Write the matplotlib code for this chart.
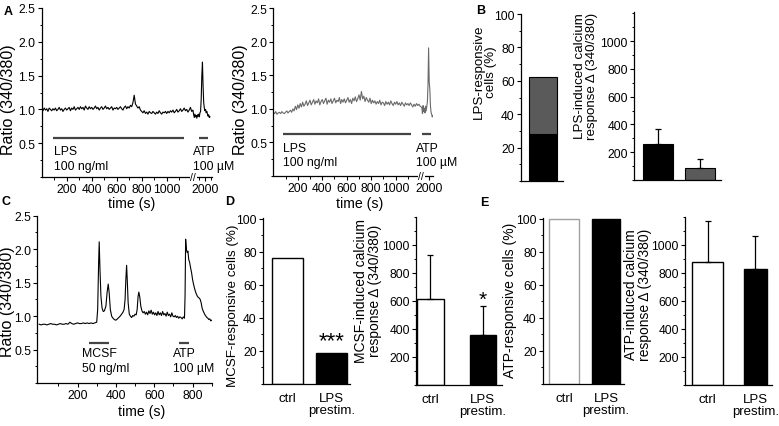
import matplotlib
matplotlib.use('Agg')
import matplotlib.pyplot as plt
from matplotlib.ticker import MultipleLocator, FixedLocator
import numpy as np

plt.rcParams['font.family'] = ['Liberation Sans', 'DejaVu Sans']
plt.rcParams['axes.linewidth'] = 0.9

W, H = 779, 427
fig = plt.figure(figsize=(W / 100, H / 100), dpi=100)

# ---------------- data ----------------
# Panel A (left trace, black), time in s, ratio 340/380
a1_pre_t = np.arange(0, 1220, 10)
a1_pre_v = [1.00, 0.98, 1.02, 0.99, 1.01, 0.97, 1.02, 1.00, 0.98, 1.01,
            0.99, 1.02, 0.98, 1.00, 1.03, 0.99, 1.01, 0.97, 1.00, 1.02,
            0.99, 1.01, 1.03, 0.98, 1.02, 1.00, 1.04, 0.99, 1.01, 1.03,
            1.00, 1.04, 1.01, 1.03, 0.99, 1.05, 1.02, 1.00, 1.04, 1.01,
            1.03, 1.00, 1.02, 1.05, 1.01, 1.03, 0.99, 1.02, 1.04, 1.00,
            1.02, 1.05, 1.01, 1.03, 1.00, 1.02, 1.04, 0.99, 1.02, 1.01,
            1.03, 1.00, 1.02, 1.04, 1.01, 0.99, 1.03, 1.05, 1.01, 1.04,
            1.02, 1.06, 1.04, 1.10, 1.21, 1.08, 1.05, 1.02, 1.04, 0.99,
            0.97, 0.95, 0.98, 0.94, 0.96, 0.93, 0.97, 0.95, 0.94, 0.97,
            0.95, 0.93, 0.96, 0.94, 0.98, 0.95, 0.93, 0.96, 0.95, 0.97,
            0.94, 0.97, 0.95, 0.98, 0.96, 0.99, 0.95, 0.97, 1.00, 0.96,
            0.98, 1.01, 0.97, 0.99, 1.02, 0.98, 1.00, 0.96, 0.99, 1.03, 0.97, 0.99]
a1_post_t = np.arange(1910, 2045, 5)
a1_post_v = [0.92, 0.88, 0.93, 0.89, 0.91, 0.87, 0.92, 0.90, 0.93, 0.89,
             0.95, 0.97, 1.15, 1.50, 1.70, 1.35, 1.10, 1.02, 0.98, 1.00,
             0.95, 0.97, 0.93, 0.90, 0.92, 0.88, 0.89]

# Panel A (right trace, gray)
a2_pre_t = np.arange(0, 1210, 10)
a2_pre_v = [0.95, 0.93, 0.96, 0.92, 0.94, 0.95, 0.93, 0.96, 0.94, 0.93,
            0.95, 0.97, 0.94, 0.96, 0.98, 0.95, 1.00, 0.97, 1.04, 0.99,
            1.06, 1.01, 1.08, 1.03, 1.10, 1.04, 1.07, 1.12, 1.05, 1.09,
            1.13, 1.06, 1.10, 1.14, 1.07, 1.12, 1.09, 1.15, 1.06, 1.11,
            1.14, 1.08, 1.12, 1.16, 1.07, 1.13, 1.10, 1.15, 1.08, 1.12,
            1.16, 1.09, 1.13, 1.11, 1.17, 1.08, 1.14, 1.10, 1.15, 1.09,
            1.13, 1.17, 1.10, 1.14, 1.08, 1.16, 1.12, 1.18, 1.11, 1.15,
            1.21, 1.13, 1.26, 1.15, 1.19, 1.11, 1.17, 1.13, 1.10, 1.16,
            1.08, 1.13, 1.09, 1.12, 1.07, 1.11, 1.08, 1.13, 1.06, 1.10,
            1.09, 1.05, 1.11, 1.07, 1.10, 1.06, 1.12, 1.08, 1.05, 1.10,
            1.07, 1.11, 1.06, 1.09, 1.05, 1.10, 1.07, 1.04, 1.09, 1.06,
            1.08, 1.05, 1.09, 1.06, 1.03, 1.07, 1.04, 1.08, 1.05, 1.07, 1.04]
a2_post_t = np.arange(1940, 2035, 5)
a2_post_v = [1.02, 0.93, 1.05, 0.96, 1.01, 0.94, 1.04, 0.97, 1.03, 1.10,
             1.35, 1.91, 1.40, 1.30, 1.05, 0.95, 0.92, 0.88, 0.90]

# Panel C trace (MCSF then ATP)
c_t = [0, 10, 20, 30, 40, 50, 60, 70, 80, 90,
       100, 110, 120, 130, 140, 150, 160, 170, 180, 190,
       200, 210, 220, 230, 240, 250, 260, 270, 280, 290,
       300, 305, 310, 313, 317, 322, 328, 334, 340, 348, 354, 360, 365, 371,
       378, 385, 392, 400, 408, 415, 422, 430, 437, 443, 448, 452, 456, 460,
       464, 470, 476, 482, 488, 494, 500, 506, 511, 516, 520, 525, 530, 536,
       542, 548, 554, 560, 566, 572, 578, 584, 590, 596, 602, 608, 614, 620,
       626, 632, 638, 644, 650, 656, 662, 668, 674, 680, 686, 692, 698, 704,
       710, 716, 722, 728, 734, 740, 746, 752, 758, 761, 764, 768, 772, 776,
       780, 785, 790, 795, 800, 805, 810, 815, 820, 825, 830, 835, 840, 845,
       850, 855, 860, 865, 870, 875, 880, 885, 890, 895, 900]
c_v = [0.88, 0.87, 0.88, 0.88, 0.87, 0.88, 0.89, 0.88, 0.88, 0.87,
       0.88, 0.89, 0.88, 0.88, 0.89, 0.88, 0.91, 0.89, 0.88, 0.89,
       0.90, 0.89, 0.89, 0.90, 0.89, 0.90, 0.89, 0.90, 0.89, 0.90,
       0.91, 1.10, 1.80, 2.11, 1.70, 1.30, 1.12, 1.07, 1.08, 1.15, 1.35, 1.48, 1.35, 1.10,
       1.00, 0.97, 0.95, 0.94, 0.96, 0.98, 1.00, 1.03, 1.06, 1.10, 1.25, 1.55, 1.76, 1.50,
       1.20, 1.03, 1.00, 0.98, 1.01, 1.00, 1.03, 1.02, 1.10, 1.30, 1.36, 1.28, 1.15, 1.08,
       1.05, 1.07, 1.03, 1.06, 1.02, 1.08, 1.04, 1.09, 1.03, 1.06, 1.02, 1.05, 1.01, 1.07,
       1.02, 1.05, 1.01, 1.07, 1.02, 1.04, 1.00, 1.06, 1.01, 1.03, 0.99, 1.05, 1.00, 0.99,
       1.01, 0.98, 1.00, 0.97, 0.99, 0.98, 0.96, 0.99, 0.97, 1.30, 2.15, 2.00, 1.95, 1.97,
       1.85, 1.80, 1.72, 1.65, 1.55, 1.48, 1.42, 1.37, 1.33, 1.30, 1.28, 1.27, 1.25, 1.20,
       1.12, 1.08, 1.05, 1.02, 1.00, 0.98, 0.97, 0.95, 0.96, 0.93, 0.94]

# Panel B
b_pct_black = 28          # LPS-responsive cells, black part (%)
b_pct_gray = 34           # gray part stacked on top (%)
b_resp = [260, 90]        # LPS-induced calcium response
b_resp_err = [110, 60]

# Panels D and E
groups = ['ctrl', 'LPS\nprestim.']
d_pct = [76, 19]
d_resp = [615, 360]
d_resp_err = [315, 205]
e_pct = [100, 100]
e_resp = [880, 830]
e_resp_err = [290, 235]

# ---------------- helpers ----------------
TICK = 8.7
LAB = 10.0
BLACK = '#000000'
GRAY = '#5a5a5a'
TRACE_GRAY = '#6a6a6a'
BAR_LINE = '#444444'


def add_ax(x0, x1, ytop, ybot):
    return fig.add_axes([x0 / W, 1 - ybot / H, (x1 - x0) / W, (ybot - ytop) / H])


def style(ax):
    for s in ('top', 'right'):
        ax.spines[s].set_visible(False)
    ax.tick_params(which='major', direction='out', length=3, width=0.8,
                   labelsize=TICK, pad=1.5)
    ax.tick_params(which='minor', direction='out', length=1.8, width=0.7)


def ftext(px, py, s, **kw):
    fig.text(px / W, 1 - py / H, s, **kw)


def trace_panel(ax, pre_t, pre_v, post_t, post_v, shift, xmax, brk, color,
                lps_bar, lps_y, lps_txt_x, lps_txt_y, atp_bar, atp_txt_x):
    t_all = np.concatenate([np.asarray(pre_t, float), np.asarray(post_t, float) - shift])
    v_all = np.concatenate([pre_v, post_v])
    ax.plot(t_all, v_all, color=color, lw=0.8)
    style(ax)
    ax.set_xlim(0, xmax)
    ax.set_ylim(0, 2.5)
    ax.set_yticks([0.5, 1.0, 1.5, 2.0, 2.5])
    ax.set_yticklabels(['0.5', '1.0', '1.5', '2.0', '2.5'])
    ax.yaxis.set_minor_locator(MultipleLocator(0.25))
    ax.set_xticks([200, 400, 600, 800, 1000, 2000 - shift])
    ax.set_xticklabels(['200', '400', '600', '800', '1000', '2000'])
    minors = [m for m in list(range(100, 1200, 100)) + [1950 - shift, 2050 - shift]
              if m < xmax]
    ax.xaxis.set_minor_locator(FixedLocator(minors))
    # stimulus bars
    ax.plot(lps_bar, [lps_y, lps_y], color=BAR_LINE, lw=1.6, solid_capstyle='butt')
    ax.plot([atp_bar[0] - shift, atp_bar[1] - shift], [lps_y, lps_y], color=BAR_LINE,
            lw=1.6, solid_capstyle='butt')
    ax.text(lps_txt_x, lps_txt_y[0], 'LPS', fontsize=8.8, ha='left', va='center')
    ax.text(lps_txt_x, lps_txt_y[1], '100 ng/ml', fontsize=8.8, ha='left', va='center')
    ax.text(atp_txt_x, lps_txt_y[0], 'ATP', fontsize=8.8, ha='left', va='center', clip_on=False)
    ax.text(atp_txt_x, lps_txt_y[1], '100 µM', fontsize=8.8, ha='left', va='center', clip_on=False)
    ax.text(brk, 0, '//', fontsize=7.5, ha='center', va='center', clip_on=False,
            bbox=dict(facecolor='white', edgecolor='none', pad=0.3))


# ---------------- Panel A ----------------
axA1 = add_ax(41.7, 211.7, 9, 178)
trace_panel(axA1, a1_pre_t, a1_pre_v, a1_post_t, a1_post_v, 694, 1360, 1213, BLACK,
            [88, 1138], 0.57, 101, (0.38, 0.17), (1952, 2024), 1208)

axA2 = add_ax(273.3, 433, 9.3, 177)
trace_panel(axA2, a2_pre_t, a2_pre_v, a2_post_t, a2_post_v, 726, 1305, 1210, TRACE_GRAY,
            [81, 1125], 0.62, 82, (0.41, 0.21), (1941, 2016), 1166)

ftext(8.5, 100, 'Ratio (340/380)', rotation=90, ha='center', va='center', fontsize=11.5)
ftext(241, 100, 'Ratio (340/380)', rotation=90, ha='center', va='center', fontsize=11.5)
ftext(132, 204, 'time (s)', ha='center', va='center', fontsize=10.2)
ftext(360, 204, 'time (s)', ha='center', va='center', fontsize=10.2)

# ---------------- Panel B ----------------
axB1 = add_ax(521, 563, 15, 182)
style(axB1)
axB1.bar([0.73], [b_pct_black], width=0.93, color=BLACK, edgecolor=BLACK, lw=0.8)
axB1.bar([0.73], [b_pct_gray], bottom=[b_pct_black], width=0.93, color=GRAY,
         edgecolor=BLACK, lw=0.8)
axB1.set_xlim(0, 1.4)
axB1.set_ylim(0, 100)
axB1.set_yticks([20, 40, 60, 80, 100])
axB1.yaxis.set_minor_locator(MultipleLocator(10))
axB1.set_xticks([])

axB2 = add_ax(634, 721, 13, 181)
style(axB2)
axB2.bar([0.8, 2.2], b_resp, width=1.0, color=[BLACK, GRAY], edgecolor=BLACK, lw=0.8)
axB2.errorbar([0.8, 2.2], b_resp, yerr=[[0, 0], b_resp_err], fmt='none',
              ecolor=BLACK, elinewidth=0.9, capsize=2, capthick=0.9)
axB2.set_xlim(0, 2.9)
axB2.set_ylim(0, 1210)
axB2.set_yticks([200, 400, 600, 800, 1000])
axB2.yaxis.set_minor_locator(MultipleLocator(100))
axB2.set_xticks([])

ftext(485, 72, 'LPS-responsive\ncells (%)', rotation=90, ha='center', va='center',
      fontsize=9.6, multialignment='center', linespacing=1.05)
ftext(586, 13, 'LPS-induced calcium\nresponse Δ (340/380)', rotation=90, ha='center',
      va='top', fontsize=9.6, multialignment='right', linespacing=1.05)

# ---------------- Panel C ----------------
axC = add_ax(37.3, 211.7, 216.7, 384.2)
axC.plot(c_t, c_v, color=BLACK, lw=0.8)
style(axC)
axC.set_xlim(-10, 900)
axC.set_ylim(0, 2.5)
axC.set_yticks([0.5, 1.0, 1.5, 2.0, 2.5])
axC.set_yticklabels(['0.5', '1.0', '1.5', '2.0', '2.5'])
axC.yaxis.set_minor_locator(MultipleLocator(0.25))
axC.set_xticks([200, 400, 600, 800])
axC.xaxis.set_minor_locator(FixedLocator([100, 300, 500, 700, 900]))
axC.plot([261, 364], [0.6, 0.6], color=BAR_LINE, lw=1.6, solid_capstyle='butt')
axC.plot([731, 781], [0.6, 0.6], color=BAR_LINE, lw=1.6, solid_capstyle='butt')
axC.text(222, 0.45, 'MCSF', fontsize=8.8, ha='left', va='center')
axC.text(222, 0.23, '50 ng/ml', fontsize=8.8, ha='left', va='center')
axC.text(699, 0.45, 'ATP', fontsize=8.8, ha='left', va='center', clip_on=False)
axC.text(700, 0.23, '100 µM', fontsize=8.8, ha='left', va='center', clip_on=False)
ftext(7.5, 302, 'Ratio (340/380)', rotation=90, ha='center', va='center', fontsize=11.5)
ftext(142, 412, 'time (s)', ha='center', va='center', fontsize=10.2)


def pct_panel(ax, pos, vals, widths, colors, edges, xmax):
    style(ax)
    ax.bar(pos, vals, width=widths, color=colors, edgecolor=edges, lw=1.0)
    ax.set_xlim(0, xmax)
    ax.set_ylim(0, 100.5)
    ax.set_yticks([20, 40, 60, 80, 100])
    ax.yaxis.set_minor_locator(MultipleLocator(10))
    ax.set_xticks(pos)
    ax.set_xticklabels(groups, fontsize=9.5, linespacing=1.0)
    ax.tick_params(axis='x', length=0, pad=6)


def resp_panel(ax, pos, vals, errs, widths, colors, xmax):
    style(ax)
    ax.bar(pos, vals, width=widths, color=colors, edgecolor=BLACK, lw=1.0)
    ax.errorbar(pos, vals, yerr=[[0, 0], errs], fmt='none', ecolor=BLACK,
                elinewidth=0.9, capsize=2, capthick=0.9)
    ax.set_xlim(0, xmax)
    ax.set_ylim(0, 1200)
    ax.set_yticks([200, 400, 600, 800, 1000])
    ax.yaxis.set_minor_locator(MultipleLocator(100))
    ax.set_xticks(pos)
    ax.set_xticklabels(groups, fontsize=9.5, linespacing=1.0)
    ax.tick_params(axis='x', length=0, pad=6)


# ---------------- Panel D ----------------
axD1 = add_ax(263, 350, 219, 385)
pct_panel(axD1, [0.82, 2.28], d_pct, [1.03, 1.03], ['white', BLACK], [BLACK, BLACK], 2.9)
axD1.text(2.28, d_pct[1] + 1, '***', fontsize=16, ha='center', va='bottom')

axD2 = add_ax(416, 502, 218, 386)
resp_panel(axD2, [0.48, 2.23], d_resp, d_resp_err, [0.92, 0.87], ['white', BLACK], 2.87)
axD2.text(2.23, 545, '*', fontsize=15, ha='center', va='bottom')

ftext(233, 306, 'MCSF-responsive cells (%)', rotation=90, ha='center', va='center',
      fontsize=9.6)
ftext(368, 291, 'MCSF-induced calcium\nresponse Δ (340/380)', rotation=90, ha='center',
      va='center', fontsize=LAB, multialignment='center', linespacing=1.05)

# ---------------- Panel E ----------------
axE1 = add_ax(543, 624, 219, 385)
pct_panel(axE1, [0.7, 2.1], e_pct, [1.0, 0.93], ['white', BLACK], ['#a0a0a0', BLACK], 2.7)

axE2 = add_ax(685, 772, 218, 385.6)
resp_panel(axE2, [0.75, 2.34], e_resp, e_resp_err, [1.03, 0.76], ['white', BLACK], 2.9)

ftext(510, 300, 'ATP-responsive cells (%)', rotation=90, ha='center', va='center',
      fontsize=LAB)
ftext(638, 295, 'ATP-induced calcium\nresponse Δ (340/380)', rotation=90, ha='center',
      va='center', fontsize=LAB, multialignment='center', linespacing=1.05)

# ---------------- panel letters ----------------
for px, py, s in [(8, 12, 'A'), (481, 11, 'B'), (6, 202, 'C'), (230, 202, 'D'), (484, 203, 'E')]:
    ftext(px, py, s, ha='center', va='center', fontsize=9, fontweight='bold')

fig.savefig('out.png', dpi=100)
